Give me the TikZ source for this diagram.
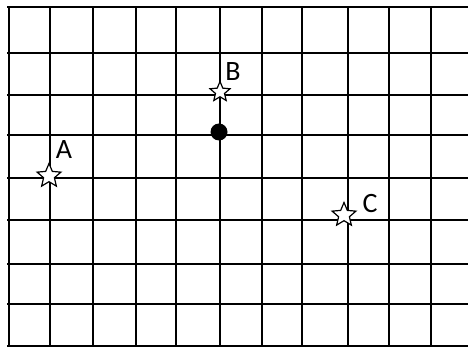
\documentclass[tikz,border=0pt]{standalone}
\usepackage{fontspec}
\setmainfont{Carlito}
\usetikzlibrary{shapes.geometric}
\begin{document}
\begin{tikzpicture}[x=1pt,y=-1pt,
  gridline/.style={line width=1.9pt,black},
  starmark/.style={star,star points=5,star point ratio=2.2,minimum size=25pt,inner sep=0pt,draw=black,fill=white,line width=1.2pt},
  dotmark/.style={circle,fill=black,minimum size=17pt,inner sep=0pt},
  lbl/.style={font=\fontsize{28}{28}\selectfont,inner sep=0pt}]
\useasboundingbox (0,0) rectangle (468,347);
\fill[white] (0,0) rectangle (468,347);
\foreach \x in {9,50,93,136,176,220,262,302,348,389,431}
  \draw[gridline] (\x,7) -- (\x,347);
\foreach \y in {7,53,95,135,178,220,264,304,346}
  \draw[gridline] (7,\y) -- (468,\y);
\node[starmark] (A) at (49,176) {};
\node[starmark,minimum size=21pt] (B) at (220,92) {};
\node[starmark] (C) at (344,215) {};
\node[dotmark] (O) at (219,132) {};
\node[lbl] (la) at (64,150) {A};
\node[lbl] (lb) at (233,72) {B};
\node[lbl] (lc) at (370,204) {C};
\end{tikzpicture}
\end{document}
